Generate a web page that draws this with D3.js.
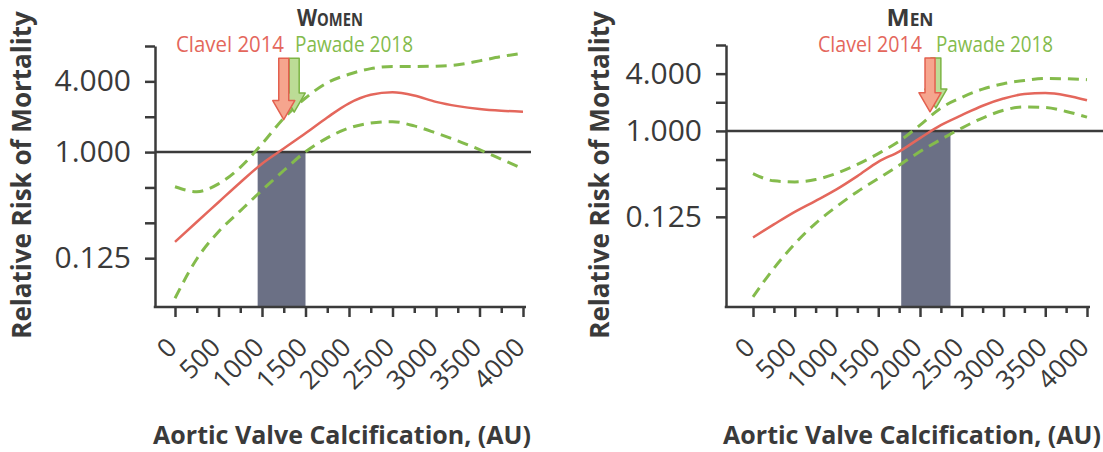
<!DOCTYPE html>
<html>
<head>
<meta charset="utf-8">
<script src="https://cdn.jsdelivr.net/npm/d3@7"></script>
<style>
  body { margin: 0; background: #fff; }
  text { font-family: "Open Sans", "Noto Sans", sans-serif; }
</style>
</head>
<body>
<div id="chart"></div>
<script>
// Calcification values (AU) where the spline curves were read
const calcium = [0, 250, 500, 750, 1000, 1250, 1500, 1750, 2000, 2250, 2500, 2750, 3000, 3250, 3500, 3750, 4000];

// Women: relative risk and 95% CI
const womenRisk  = [0.172, 0.254, 0.374, 0.551, 0.796, 1.072, 1.444, 1.972, 2.603, 3.074, 3.227, 3.031, 2.676, 2.462, 2.329, 2.250, 2.204];
const womenUpper = [0.507, 0.460, 0.536, 0.742, 1.173, 1.945, 2.888, 3.891, 4.595, 5.134, 5.352, 5.352, 5.389, 5.540, 5.979, 6.498, 6.964];
const womenLower = [0.057, 0.123, 0.210, 0.316, 0.473, 0.697, 1.007, 1.320, 1.602, 1.765, 1.815, 1.670, 1.454, 1.248, 1.050, 0.871, 0.722];

// Men: relative risk and 95% CI
const menRisk  = [0.076, 0.104, 0.141, 0.184, 0.243, 0.335, 0.473, 0.607, 0.841, 1.149, 1.464, 1.840, 2.188, 2.445, 2.497, 2.362, 2.099];
const menUpper = [0.356, 0.299, 0.291, 0.308, 0.358, 0.444, 0.578, 0.779, 1.149, 1.741, 2.250, 2.751, 3.138, 3.387, 3.555, 3.531, 3.458];
const menLower = [0.018, 0.036, 0.065, 0.107, 0.160, 0.230, 0.316, 0.435, 0.607, 0.812, 1.072, 1.366, 1.647, 1.790, 1.765, 1.602, 1.395];

// Threshold band and arrows (Clavel 2014, Pawade 2018)
const womenBand = [950, 1500];
const menBand = [1775, 2365];
const arrowLabels = ["Clavel 2014", "Pawade 2018"];
const womenArrows = [1250, 1370];
const menArrows = [2120, 2190];

// Axis ticks
const xTicks = [0, 500, 1000, 1500, 2000, 2500, 3000, 3500, 4000];
const xMinorTicks = [250, 750, 1250, 1750, 2250, 2750, 3250, 3750];
const yTicks = [8, 4, 2, 1, 0.5, 0.25, 0.125];
const yTickLabels = new Map([[4, "4.000"], [1, "1.000"], [0.125, "0.125"]]);

const width = 1103, height = 452;
const axisColor = "#3b3b3b";
const textColor = "#3a3a3a";
const redColor = "#e4675c";
const greenColor = "#84bb4c";

const svg = d3.select("#chart").append("svg")
  .attr("width", width)
  .attr("height", height);

svg.append("rect").attr("width", width).attr("height", height).attr("fill", "#fff");

const panels = [
  {
    title: "Women", titleX: 330, titleLen: 66,
    risk: womenRisk, upper: womenUpper, lower: womenLower,
    band: womenBand, arrows: womenArrows,
    axisX: 155, xRange: [175, 523], yDomain: [0.048, 8], yTop: 46,
    refEnd: 531, labelX: 31, xTitleX: 342,
    legend: [284, 295], legendLen: [108, 118],
    arrowTop: 6.3, arrowTips: [1.89, 2.19]
  },
  {
    title: "Men", titleX: 910, titleLen: 47,
    risk: menRisk, upper: menUpper, lower: menLower,
    band: menBand, arrows: menArrows,
    axisX: 726, xRange: [753, 1087], yDomain: [0.0141, 8], yTop: 45,
    refEnd: 1103, labelX: 609, xTitleX: 912,
    legend: [922, 936], legendLen: [104, 117],
    arrowTop: 5.84, arrowTips: [1.59, 1.74]
  }
];

panels.forEach(p => {
  const bottom = 307;
  const x = d3.scaleLinear().domain([0, 4000]).range(p.xRange);
  const y = d3.scaleLog().base(2).domain(p.yDomain).range([bottom, p.yTop]);
  const g = svg.append("g");

  // shaded band
  g.append("rect")
    .attr("x", x(p.band[0]))
    .attr("width", x(p.band[1]) - x(p.band[0]))
    .attr("y", y(1))
    .attr("height", bottom - y(1))
    .attr("fill", "#6b7085");

  // reference line at RR = 1
  g.append("line")
    .attr("x1", p.axisX).attr("x2", p.refEnd)
    .attr("y1", y(1)).attr("y2", y(1))
    .attr("stroke", axisColor).attr("stroke-width", 2.5);

  const line = d3.line()
    .x((d, i) => x(calcium[i]))
    .y(d => y(d))
    .curve(d3.curveMonotoneX);

  [p.upper, p.lower].forEach(s => {
    g.append("path")
      .attr("d", line(s))
      .attr("fill", "none")
      .attr("stroke", greenColor)
      .attr("stroke-width", 3)
      .attr("stroke-dasharray", "11,7");
  });

  g.append("path")
    .attr("d", line(p.risk))
    .attr("fill", "none")
    .attr("stroke", redColor)
    .attr("stroke-width", 2.5);

  // arrows: green drawn first, red on top
  const arrowStyles = [
    { fill: "#f6a58e", stroke: "#e3604f" },
    { fill: "#bcdc96", stroke: "#7cb444" }
  ];
  [1, 0].forEach(k => {
    const cx = x(p.arrows[k]);
    const top = y(p.arrowTop);
    const tip = y(p.arrowTips[k]);
    const shaft = 5, head = 11, headLen = 19;
    const pts = [
      [cx - shaft, top], [cx + shaft, top], [cx + shaft, tip - headLen],
      [cx + head, tip - headLen], [cx, tip], [cx - head, tip - headLen],
      [cx - shaft, tip - headLen]
    ];
    g.append("path")
      .attr("d", d3.line()(pts) + "Z")
      .attr("fill", arrowStyles[k].fill)
      .attr("stroke", arrowStyles[k].stroke)
      .attr("stroke-width", 1.5)
      .attr("stroke-linejoin", "round");
  });

  // legend labels
  g.append("text")
    .attr("x", p.legend[0]).attr("y", 52)
    .attr("text-anchor", "end")
    .attr("font-family", "Lato, sans-serif")
    .attr("font-size", 21)
    .attr("textLength", p.legendLen[0])
    .attr("lengthAdjust", "spacingAndGlyphs")
    .attr("fill", redColor)
    .text(arrowLabels[0]);
  g.append("text")
    .attr("x", p.legend[1]).attr("y", 52)
    .attr("font-family", "Lato, sans-serif")
    .attr("font-size", 21)
    .attr("textLength", p.legendLen[1])
    .attr("lengthAdjust", "spacingAndGlyphs")
    .attr("fill", greenColor)
    .text(arrowLabels[1]);

  // title in small caps
  g.append("text")
    .attr("x", p.titleX).attr("y", 25.5)
    .attr("text-anchor", "middle")
    .attr("font-family", "Lato, sans-serif")
    .attr("font-weight", "bold")
    .attr("font-size", 24)
    .style("font-variant", "small-caps")
    .attr("textLength", p.titleLen)
    .attr("lengthAdjust", "spacingAndGlyphs")
    .attr("fill", textColor)
    .text(p.title);

  // y axis
  const yAxis = g.append("g")
    .attr("transform", `translate(${p.axisX},0)`)
    .style("color", axisColor)
    .call(d3.axisLeft(y)
      .tickValues(yTicks)
      .tickSize(10)
      .tickSizeOuter(0)
      .tickPadding(14)
      .tickFormat(d => yTickLabels.get(d) || ""));
  yAxis.selectAll("path, line").attr("stroke-width", 2.5);
  yAxis.selectAll("text")
    .attr("font-size", 30)
    .attr("font-family", "'Open Sans', sans-serif")
    .attr("fill", textColor);

  // x axis line
  g.append("line")
    .attr("x1", p.axisX - 1.25).attr("x2", x(4000) + 3)
    .attr("y1", bottom).attr("y2", bottom)
    .attr("stroke", axisColor).attr("stroke-width", 2.5);

  const xMinor = g.append("g")
    .attr("transform", `translate(0,${bottom})`)
    .style("color", axisColor)
    .call(d3.axisBottom(x).tickValues(xMinorTicks).tickSize(6).tickFormat(""));
  xMinor.select(".domain").remove();
  xMinor.selectAll("line").attr("stroke-width", 2.5);

  const xAxis = g.append("g")
    .attr("transform", `translate(0,${bottom})`)
    .style("color", axisColor)
    .call(d3.axisBottom(x).tickValues(xTicks).tickSize(10).tickFormat(d3.format("d")));
  xAxis.select(".domain").remove();
  xAxis.selectAll("line").attr("stroke-width", 2.5);
  xAxis.selectAll("text")
    .attr("x", 0).attr("y", 0).attr("dy", 0)
    .attr("text-anchor", "end")
    .attr("transform", "translate(3,42) rotate(-45)")
    .attr("font-size", 26)
    .attr("font-family", "'Open Sans', sans-serif")
    .attr("fill", textColor);

  // axis titles
  g.append("text")
    .attr("transform", `translate(${p.labelX},175) rotate(-90)`)
    .attr("text-anchor", "middle")
    .attr("font-size", 26)
    .attr("font-weight", "bold")
    .attr("fill", textColor)
    .text("Relative Risk of Mortality");

  g.append("text")
    .attr("x", p.xTitleX).attr("y", 444)
    .attr("text-anchor", "middle")
    .attr("font-size", 25)
    .attr("font-weight", "bold")
    .attr("fill", textColor)
    .text("Aortic Valve Calcification, (AU)");
});
</script>
</body>
</html>
